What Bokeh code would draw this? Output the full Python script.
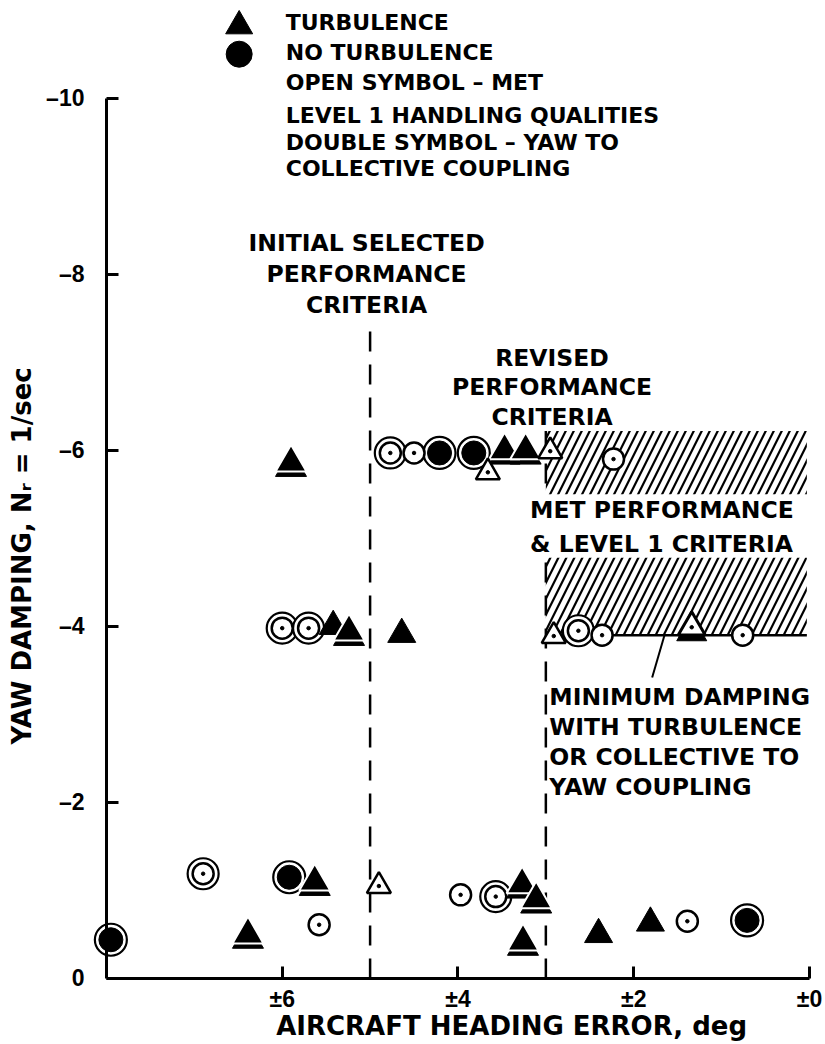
import math
from bokeh.plotting import figure
from bokeh.models import Range1d, FixedTicker, ColumnDataSource
from bokeh.core.properties import value
from bokeh.embed import file_html
from bokeh.resources import INLINE

# ---------------- data (heading error deg, yaw damping 1/sec) ----------------
turb_single_x = [5.42, 4.64, 2.40, 1.81]
turb_single_y = [-4.00, -3.91, -0.50, -0.63]

turb_double_x = [5.90, 3.47, 3.23, 5.24, 6.39, 5.63, 3.27, 3.11, 3.26]
turb_double_y = [-5.86, -6.00, -6.00, -3.94, -0.50, -1.10, -1.07, -0.90, -0.42]

noturb_double_x = [4.21, 3.82, 7.95, 5.92, 0.71]
noturb_double_y = [-5.97, -5.97, -0.44, -1.15, -0.66]

open_circle_x = [4.50, 2.23, 2.36, 0.76, 5.58, 3.97, 1.39]
open_circle_y = [-5.97, -5.90, -3.90, -3.90, -0.61, -0.95, -0.65]

open_circle_double_x = [4.77, 6.00, 5.70, 2.63, 6.90, 3.57]
open_circle_double_y = [-5.97, -3.98, -3.98, -3.95, -1.19, -0.93]

open_tri_x = [3.66, 2.95, 2.91, 4.90]
open_tri_y = [-5.75, -5.99, -3.89, -1.05]

open_tri_double_x = [1.34]
open_tri_double_y = [-3.99]

x_ticks = [6, 4, 2, 0]
x_tick_labels = ["±6", "±4", "±2", "±0"]
y_ticks = [0, -2, -4, -6, -8, -10]
y_tick_labels = ["0", "–2", "–4", "–6", "–8", "–10"]

initial_criteria = 5.0
revised_criteria = 3.0
min_damping = -3.9
region_top = -6.22
initial_line_top = -7.47

x_title = "AIRCRAFT HEADING ERROR, deg"
y_title = "YAW DAMPING, N\u1d63 = 1/sec"

legend_lines = ["TURBULENCE", "NO TURBULENCE", "OPEN SYMBOL – MET",
                "LEVEL 1 HANDLING QUALITIES", "DOUBLE SYMBOL – YAW TO",
                "COLLECTIVE COUPLING"]
legend_y = [-10.86, -10.52, -10.18, -9.80, -9.50, -9.20]
initial_lines = ["INITIAL SELECTED", "PERFORMANCE", "CRITERIA"]
initial_y = [-8.35, -8.00, -7.65]
revised_lines = ["REVISED", "PERFORMANCE", "CRITERIA"]
revised_y = [-7.05, -6.72, -6.38]
region_lines = ["MET PERFORMANCE", "& LEVEL 1 CRITERIA"]
region_y = [-5.32, -4.94]
min_lines = ["MINIMUM DAMPING", "WITH TURBULENCE", "OR COLLECTIVE TO", "YAW COUPLING"]
min_y = [-3.20, -2.86, -2.52, -2.18]

# ---------------- figure ----------------
p = figure(width=824, height=1044, x_range=Range1d(9.206, -0.171), y_range=Range1d(0.75, -11.11),
           output_backend="svg", toolbar_location=None,
           min_border_left=0, min_border_right=0, min_border_top=0, min_border_bottom=0)
p.outline_line_color = None
p.xgrid.visible = False
p.ygrid.visible = False
p.background_fill_color = "white"
p.border_fill_color = "white"

for ax in (p.xaxis[0], p.yaxis[0]):
    ax.axis_line_width = 3
    ax.axis_line_color = "black"
    ax.major_tick_in = 12
    ax.major_tick_out = 0
    ax.major_tick_line_width = 3
    ax.minor_tick_line_color = None
    ax.major_label_text_font = "Liberation Sans"
    ax.major_label_text_font_style = "bold"
    ax.major_label_text_color = "black"

p.xaxis.ticker = FixedTicker(ticks=x_ticks)
p.xaxis.major_label_overrides = dict(zip(x_ticks, x_tick_labels))
p.xaxis.bounds = (0, 8)
p.xaxis.fixed_location = 0
p.xaxis.major_label_text_font_size = "23px"
p.xaxis.major_label_standoff = 8

p.yaxis.ticker = FixedTicker(ticks=y_ticks)
p.yaxis.major_label_overrides = dict(zip(y_ticks, y_tick_labels))
p.yaxis.bounds = (-10, 0)
p.yaxis.fixed_location = 8
p.yaxis.major_label_text_font_size = "23px"
p.yaxis.major_label_standoff = 22

# ---------------- region / criteria lines ----------------
p.quad(left=[revised_criteria], right=[0.03], top=[region_top], bottom=[min_damping],
       fill_color=None, line_color=None, hatch_pattern="/", hatch_color="black",
       hatch_weight=2.2, hatch_scale=16)
p.segment(x0=[initial_criteria, revised_criteria], x1=[initial_criteria, revised_criteria],
          y0=[0, 0], y1=[initial_line_top, region_top],
          line_color="black", line_width=2.5, line_dash="20 13")
# white band behind region text
p.quad(left=[revised_criteria + 0.25], right=[0.0], top=[region_y[0] - 0.18],
       bottom=[region_y[1] + 0.16], fill_color="white", line_color=None)
p.segment(x0=[revised_criteria], x1=[0.03], y0=[min_damping], y1=[min_damping],
          line_color="black", line_width=2.5)
p.segment(x0=[1.65], x1=[1.79], y0=[min_damping], y1=[min_damping + 0.48],
          line_color="black", line_width=2)

# ---------------- markers ----------------
dy = 0.055
p.scatter(noturb_double_x, noturb_double_y, marker="circle", size=32,
          fill_color="white", line_color="black", line_width=2.2)
p.scatter(noturb_double_x, noturb_double_y, marker="circle", size=24,
          fill_color="black", line_color="black")
p.scatter(open_circle_double_x, open_circle_double_y, marker="circle", size=31,
          fill_color="white", line_color="black", line_width=2.2)
p.scatter(open_circle_double_x, open_circle_double_y, marker="circle", size=21,
          fill_color="white", line_color="black", line_width=2.5)
p.scatter(open_circle_double_x, open_circle_double_y, marker="circle", size=3.5,
          fill_color="black", line_color="black")
p.scatter(open_circle_x, open_circle_y, marker="circle", size=21,
          fill_color="white", line_color="black", line_width=2.5)
p.scatter(open_circle_x, open_circle_y, marker="circle", size=3.5,
          fill_color="black", line_color="black")
p.scatter(turb_single_x, turb_single_y, marker="triangle", size=28,
          fill_color="black", line_color="black", line_width=1)
p.scatter(turb_double_x, [v + dy for v in turb_double_y], marker="triangle", size=31,
          fill_color="black", line_color="black", line_width=1)
p.scatter(turb_double_x, turb_double_y, marker="triangle", size=31,
          fill_color="black", line_color="white", line_width=2)
p.scatter(open_tri_double_x, [v + dy for v in open_tri_double_y], marker="triangle", size=30,
          fill_color="black", line_color="black", line_width=1)
p.scatter(open_tri_double_x, open_tri_double_y, marker="triangle", size=27,
          fill_color="white", line_color="black", line_width=3)
p.scatter(open_tri_double_x, open_tri_double_y, marker="circle", size=3.5,
          fill_color="black", line_color="black")
p.scatter(open_tri_x, open_tri_y, marker="triangle", size=24,
          fill_color="white", line_color="black", line_width=2.5)
p.scatter(open_tri_x, open_tri_y, marker="circle", size=3.5,
          fill_color="black", line_color="black")

# ---------------- legend ----------------
p.scatter([6.49], [-10.82], marker="triangle", size=27, fill_color="black", line_color="black")
p.scatter([6.49], [-10.50], marker="circle", size=26, fill_color="black", line_color="black")

def add_text(lines, xs, ys, align, size="22px", angle=0.0):
    src = ColumnDataSource(dict(x=xs, y=ys, t=lines))
    p.text(x="x", y="y", text="t", source=src, text_font=value("DejaVu Sans"),
           text_font_style="bold", text_font_size=size, text_align=align,
           text_baseline="middle", text_color="black", angle=angle)

add_text(legend_lines, [5.96] * len(legend_lines), legend_y, "left", "22px")
add_text(initial_lines, [initial_criteria + 0.04] * 3, initial_y, "center", "23.5px")
add_text(revised_lines, [revised_criteria - 0.07] * 3, revised_y, "center", "23.5px")
add_text(region_lines, [revised_criteria + 0.18] * 2, region_y, "left", "23.5px")
add_text(min_lines, [revised_criteria - 0.04] * 4, min_y, "left", "23.5px")
# axis titles
add_text([x_title], [3.39], [0.535], "center", "26px")
add_text([y_title], [8.96], [-4.8], "center", "26px", angle=math.pi / 2)

open("out.html", "w").write(file_html(p, INLINE))
